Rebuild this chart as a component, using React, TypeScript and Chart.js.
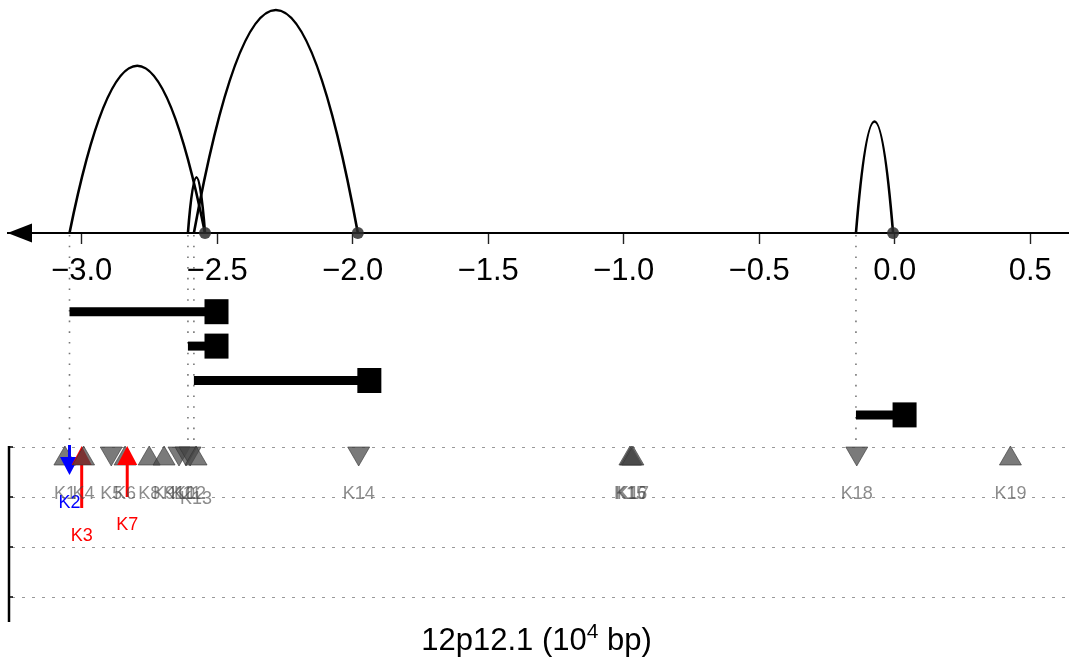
import React, { useEffect, useRef } from "react";
import { Chart, registerables } from "chart.js";

Chart.register(...registerables);

// ---------------- data (genomic positions in 10^4 bp) ----------------
const linkStarts = [-3.045, -2.608, -2.586, -0.143];
const linkEnds = [-2.545, -2.545, -1.981, -0.006];
const linkScores = [0.75, 0.25, 1.0, 0.5];

const tickValues = [-3.0, -2.5, -2.0, -1.5, -1.0, -0.5, 0.0, 0.5];

const markerLabels = [
  "K1", "K2", "K3", "K4", "K5", "K6", "K7", "K8", "K9", "K10",
  "K11", "K12", "K13", "K14", "K15", "K16", "K17", "K18", "K19",
];
const markerPositions = [
  -3.062, -3.045, -3.0, -2.993, -2.891, -2.84, -2.832, -2.751, -2.696, -2.641,
  -2.615, -2.6, -2.578, -1.978, -0.977, -0.972, -0.966, -0.14, 0.427,
];
const markerKinds = [
  "up", "arrowDown", "arrowUp", "up", "down", "up", "arrowUp", "up", "up", "down",
  "down", "down", "up", "down", "up", "up", "up", "down", "up",
];
const markerArrowSizes = [
  0, 0.56, 1.22, 0, 0, 0, 1.0, 0, 0, 0,
  0, 0, 0, 0, 0, 0, 0, 0, 0,
];

const trackRows = [0, 1, 2, 3];

const axisTitleMain = "12p12.1 (10";
const axisTitleSup = "4";
const axisTitleTail = " bp)";

// ---------------- layout / style ----------------
const W = 1069;
const H = 657;
const LEFT_PAD = 8;
const PX_PER_UNIT_X = 271;
const X_ZERO_PX = 894.7;
const X_MIN = (LEFT_PAD - X_ZERO_PX) / PX_PER_UNIT_X;
const X_MAX = (W - X_ZERO_PX) / PX_PER_UNIT_X;

const AXIS_Y_PX = 233;
const ARC_UNIT_PX = 223;
const BAR_ROW1_PX = 311.7;
const BAR_STEP_PX = 34.4;
const TRACK_TOP_PX = 447;
const TRACK_STEP_PX = 50;

const FONT = "'Liberation Sans', Arial, Helvetica, sans-serif";
const labelNudgePx: Record<string, number> = { K13: 5 };

const fmtTick = (v: number) =>
  (v < -1e-9 ? "\u2212" : "") + Math.abs(v).toFixed(1);

const tracksPlugin = {
  id: "tracksPlugin",
  beforeDatasetsDraw(chart: any) {
    const ctx: CanvasRenderingContext2D = chart.ctx;
    const area = chart.chartArea;
    const xs = chart.scales.x;
    const ya = chart.scales.y;
    const yb = chart.scales.yBar;
    const yt = chart.scales.yTrack;
    const y0 = ya.getPixelForValue(0);
    const trackTop = yt.getPixelForValue(trackRows[0]);

    ctx.save();

    // left arrow head of the genomic axis
    ctx.fillStyle = "#000";
    ctx.beginPath();
    ctx.moveTo(area.left - 0.5, y0);
    ctx.lineTo(area.left + 24, y0 - 9.5);
    ctx.lineTo(area.left + 24, y0 + 9.5);
    ctx.closePath();
    ctx.fill();

    // dotted guide lines from link starts
    ctx.strokeStyle = "#777";
    ctx.lineWidth = 1.6;
    ctx.setLineDash([1.6, 9.1]);
    linkStarts.forEach((s) => {
      const x = xs.getPixelForValue(s);
      ctx.beginPath();
      ctx.moveTo(x, y0 + 2);
      ctx.lineTo(x, trackTop - 6);
      ctx.stroke();
    });
    ctx.setLineDash([]);

    // arcs
    ctx.strokeStyle = "#000";
    ctx.lineWidth = 2.6;
    linkStarts.forEach((s, i) => {
      const xa = xs.getPixelForValue(s);
      const xb = xs.getPixelForValue(linkEnds[i]);
      const cy = ya.getPixelForValue(2 * linkScores[i]);
      ctx.beginPath();
      ctx.moveTo(xa, y0);
      ctx.quadraticCurveTo((xa + xb) / 2, cy, xb, y0);
      ctx.stroke();
    });

    // interval bars with end squares
    ctx.lineWidth = 9;
    ctx.lineCap = "butt";
    linkStarts.forEach((s, i) => {
      const xa = xs.getPixelForValue(s);
      const xb = xs.getPixelForValue(linkEnds[i]);
      const y = yb.getPixelForValue(i + 1);
      ctx.beginPath();
      ctx.moveTo(xa, y);
      ctx.lineTo(xb + 2, y);
      ctx.stroke();
      ctx.fillRect(xb - 0.5, y - 12.5, 24, 25);
    });

    // lower track panel: dotted rows and left axis
    ctx.strokeStyle = "#999";
    ctx.lineWidth = 1;
    ctx.setLineDash([3, 7]);
    trackRows.forEach((r) => {
      const y = Math.round(yt.getPixelForValue(r)) + 0.5;
      ctx.beginPath();
      ctx.moveTo(area.left + 4, y);
      ctx.lineTo(area.right, y);
      ctx.stroke();
    });
    ctx.setLineDash([]);
    ctx.strokeStyle = "#000";
    ctx.lineWidth = 2.5;
    ctx.beginPath();
    ctx.moveTo(area.left + 1, yt.getPixelForValue(trackRows[0]) - 1);
    ctx.lineTo(area.left + 1, yt.getPixelForValue(trackRows[trackRows.length - 1] + 0.5));
    ctx.stroke();
    ctx.lineWidth = 1.5;
    trackRows.forEach((r) => {
      const y = yt.getPixelForValue(r);
      ctx.beginPath();
      ctx.moveTo(area.left + 1, y);
      ctx.lineTo(area.left + 5, y);
      ctx.stroke();
    });

    // markers (drawn in index order)
    const labelYs: number[] = [];
    markerPositions.forEach((p, i) => {
      const x = xs.getPixelForValue(p);
      const kind = markerKinds[i];
      const top = trackTop;
      let bottom = top + 19;
      if (kind === "up" || kind === "down") {
        ctx.fillStyle = "rgba(70,70,70,0.72)";
        ctx.strokeStyle = "rgba(50,50,50,0.6)";
        ctx.lineWidth = 1;
        ctx.beginPath();
        if (kind === "up") {
          ctx.moveTo(x, top - 1);
          ctx.lineTo(x + 11, top + 18);
          ctx.lineTo(x - 11, top + 18);
        } else {
          ctx.moveTo(x - 11, top);
          ctx.lineTo(x + 11, top);
          ctx.lineTo(x, top + 19);
        }
        ctx.closePath();
        ctx.fill();
        ctx.stroke();
      } else if (kind === "arrowUp") {
        const end = yt.getPixelForValue(markerArrowSizes[i]);
        ctx.fillStyle = "#ff0000";
        ctx.strokeStyle = "#ff0000";
        ctx.lineWidth = 3;
        ctx.beginPath();
        ctx.moveTo(x, top + 16);
        ctx.lineTo(x, end);
        ctx.stroke();
        ctx.beginPath();
        ctx.moveTo(x, top - 1);
        ctx.lineTo(x + 10, top + 18);
        ctx.lineTo(x - 10, top + 18);
        ctx.closePath();
        ctx.fill();
        bottom = end;
      } else {
        const end = yt.getPixelForValue(markerArrowSizes[i]);
        ctx.fillStyle = "#0000ff";
        ctx.strokeStyle = "#0000ff";
        ctx.lineWidth = 3;
        ctx.beginPath();
        ctx.moveTo(x, top - 2);
        ctx.lineTo(x, end - 16);
        ctx.stroke();
        ctx.beginPath();
        ctx.moveTo(x - 9.5, end - 18);
        ctx.lineTo(x + 9.5, end - 18);
        ctx.lineTo(x, end);
        ctx.closePath();
        ctx.fill();
        bottom = end;
      }
      labelYs.push(bottom + 28.5 + (labelNudgePx[markerLabels[i]] || 0));
    });

    // marker labels
    ctx.font = `18px ${FONT}`;
    ctx.textAlign = "center";
    ctx.textBaseline = "middle";
    markerPositions.forEach((p, i) => {
      const x = xs.getPixelForValue(p);
      const kind = markerKinds[i];
      ctx.fillStyle =
        kind === "arrowUp" ? "#ff0000" : kind === "arrowDown" ? "#0000ff" : "rgba(70,70,70,0.62)";
      ctx.fillText(markerLabels[i], x, labelYs[i]);
    });

    // axis title with superscript
    const cx = (area.left + area.right) / 2 - 2;
    const baseY = 650;
    ctx.fillStyle = "#000";
    ctx.textAlign = "left";
    ctx.textBaseline = "alphabetic";
    ctx.font = `31px ${FONT}`;
    const wMain = ctx.measureText(axisTitleMain).width;
    const wTail = ctx.measureText(axisTitleTail).width;
    ctx.font = `21px ${FONT}`;
    const wSup = ctx.measureText(axisTitleSup).width;
    let tx = cx - (wMain + wSup + wTail) / 2;
    ctx.font = `31px ${FONT}`;
    ctx.fillText(axisTitleMain, tx, baseY);
    tx += wMain;
    ctx.font = `21px ${FONT}`;
    ctx.fillText(axisTitleSup, tx, baseY - 12);
    tx += wSup;
    ctx.font = `31px ${FONT}`;
    ctx.fillText(axisTitleTail, tx, baseY);

    ctx.restore();
  },
};

export default function App() {
  const canvasRef = useRef<HTMLCanvasElement | null>(null);

  useEffect(() => {
    if (!canvasRef.current) return;
    const endSet = Array.from(new Set(linkEnds));
    const chart = new Chart(canvasRef.current, {
      type: "scatter",
      data: {
        datasets: [
          {
            data: endSet.map((e) => ({ x: e, y: 0 })),
            xAxisID: "x",
            yAxisID: "y",
            pointRadius: 6,
            pointHoverRadius: 6,
            pointBackgroundColor: "rgba(45,45,45,0.85)",
            pointBorderWidth: 0,
            showLine: false,
          },
        ],
      },
      options: {
        responsive: false,
        animation: false,
        events: [],
        layout: { autoPadding: false, padding: { left: LEFT_PAD, right: 0, top: 0, bottom: 0 } },
        plugins: {
          legend: { display: false },
          tooltip: { enabled: false },
          title: { display: false },
        },
        scales: {
          x: {
            type: "linear",
            axis: "x",
            min: X_MIN,
            max: X_MAX,
            position: { y: 0 } as any,
            afterFit: (s: any) => {
              s.height = 0;
            },
            afterBuildTicks: (s: any) => {
              s.ticks = tickValues.map((v) => ({ value: v }));
            },
            grid: {
              drawOnChartArea: false,
              drawTicks: true,
              tickLength: 10,
              tickColor: "#222",
              tickWidth: 1.4,
            },
            border: { display: true, color: "#000", width: 2 },
            ticks: {
              autoSkip: false,
              includeBounds: false,
              maxRotation: 0,
              minRotation: 0,
              padding: 10,
              color: "#000",
              font: { family: FONT, size: 31 },
              callback: (v: any) => fmtTick(Number(v)),
            },
          },
          y: {
            type: "linear",
            axis: "y",
            display: false,
            max: AXIS_Y_PX / ARC_UNIT_PX,
            min: AXIS_Y_PX / ARC_UNIT_PX - H / ARC_UNIT_PX,
          },
          yBar: {
            type: "linear",
            axis: "y",
            display: false,
            reverse: true,
            min: 1 - BAR_ROW1_PX / BAR_STEP_PX,
            max: 1 - BAR_ROW1_PX / BAR_STEP_PX + H / BAR_STEP_PX,
          },
          yTrack: {
            type: "linear",
            axis: "y",
            display: false,
            reverse: true,
            min: -TRACK_TOP_PX / TRACK_STEP_PX,
            max: -TRACK_TOP_PX / TRACK_STEP_PX + H / TRACK_STEP_PX,
          },
        } as any,
      },
      plugins: [tracksPlugin],
    });
    return () => chart.destroy();
  }, []);

  return (
    <div
      style={{
        position: "fixed",
        left: 0,
        top: 0,
        width: W,
        height: H,
        background: "#fff",
      }}
    >
      <canvas ref={canvasRef} width={W} height={H} style={{ display: "block" }} />
    </div>
  );
}
